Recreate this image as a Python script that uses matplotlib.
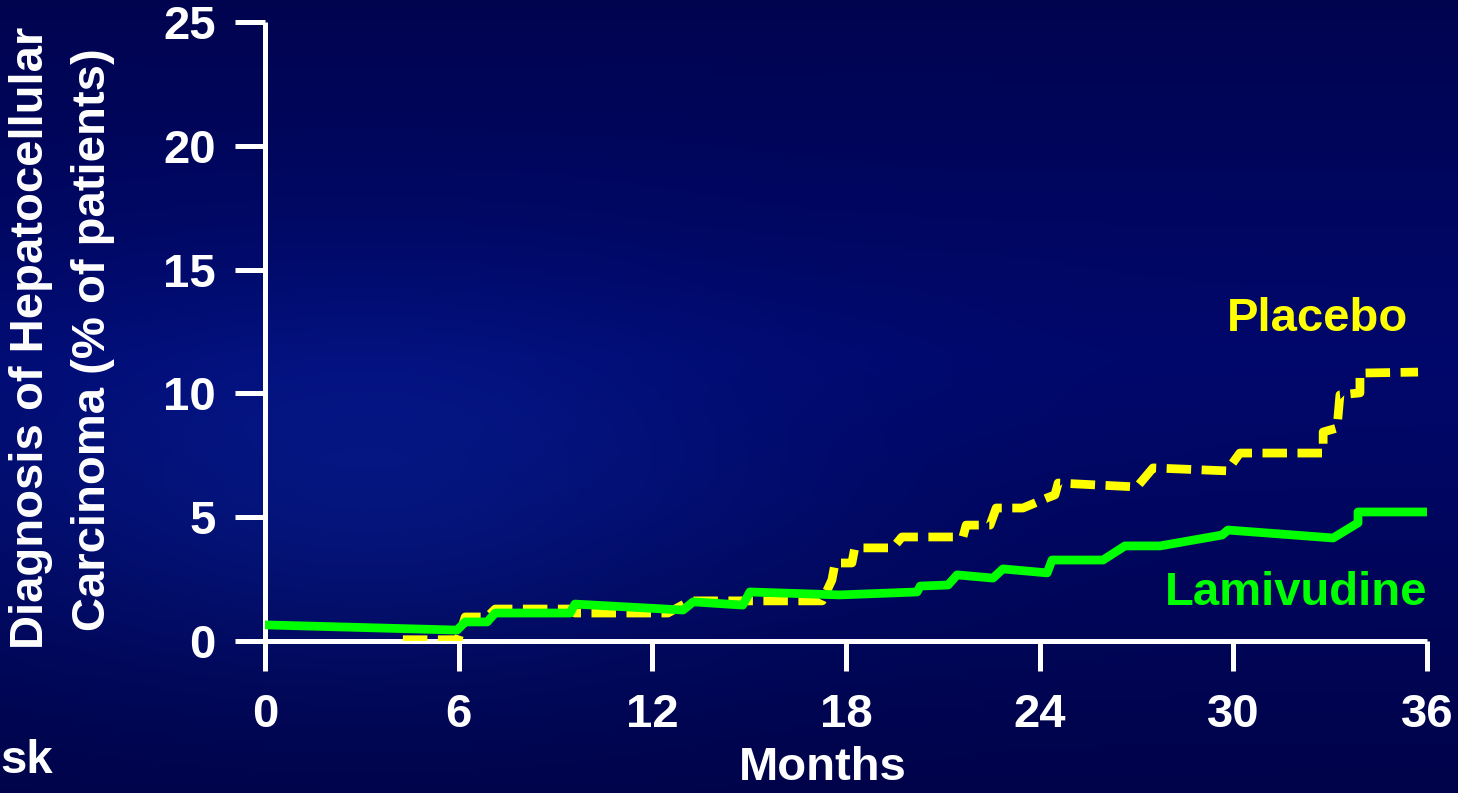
import numpy as np
import matplotlib
matplotlib.use('Agg')
import matplotlib.pyplot as plt

plt.rcParams['font.family'] = ['Liberation Sans', 'DejaVu Sans']
plt.rcParams['font.weight'] = 'bold'

# Lamivudine (solid green), months vs % of patients
lam_months = [0, 5.95, 6.2, 6.88, 7.13, 9.45, 9.6, 12.95, 13.26, 14.8, 15.02, 17.8,
              20.2, 20.3, 21.16, 21.44, 22.55, 22.86, 24.23, 24.38, 25.96, 26.64,
              27.73, 29.65, 29.83, 33.09, 33.86, 33.86, 36]
lam_pct = [0.65, 0.44, 0.77, 0.77, 1.13, 1.13, 1.49, 1.25, 1.58, 1.45, 1.98, 1.86,
           1.98, 2.22, 2.26, 2.67, 2.54, 2.91, 2.75, 3.27, 3.27, 3.84,
           3.84, 4.28, 4.48, 4.16, 4.77, 5.21, 5.21]

# Placebo (dashed yellow)
pla_months = [4.27, 5.98, 6.2, 6.88, 7.13, 9.45, 9.6, 12.48, 13.17, 17.26, 17.56,
              17.66, 18.18, 18.27, 19.45, 19.73, 21.62, 21.72, 22.46, 22.65, 23.48,
              24.23, 24.47, 24.57, 27.01, 27.51, 29.8, 30.2, 32.78, 32.78, 33.21,
              33.3, 33.92, 33.92, 35.72]
pla_pct = [0.05, 0.05, 0.97, 0.97, 1.29, 1.29, 1.13, 1.13, 1.62, 1.62, 2.46,
           3.15, 3.15, 3.76, 3.76, 4.2, 4.2, 4.68, 4.68, 5.37, 5.37,
           5.78, 5.9, 6.38, 6.22, 6.99, 6.87, 7.59, 7.59, 8.44, 8.6,
           9.94, 10.02, 10.82, 10.86]

xticks = [0, 6, 12, 18, 24, 30, 36]
yticks = [0, 5, 10, 15, 20, 25]

fig = plt.figure(figsize=(14.58, 7.93), dpi=100)

# dark blue slide background
bg = fig.add_axes([0, 0, 1, 1], zorder=-10)
yy, xx = np.mgrid[0:1:200j, 0:1:300j]
glow = np.exp(-((xx - 0.25) ** 2 / 0.08 + (yy - 0.6) ** 2 / 0.06))
dark = np.clip(np.abs(yy - 0.45) * 1.5, 0, 1)
img = np.zeros((200, 300, 3))
img[..., 0] = 0.0 + 0.02 * glow
img[..., 1] = 0.03 + 0.06 * glow - 0.02 * dark
img[..., 2] = 0.42 + 0.12 * glow - 0.16 * dark
bg.imshow(np.clip(img, 0, 1), aspect='auto', extent=[0, 1, 0, 1], origin='upper')
bg.axis('off')

ax = fig.add_axes([0.1818, 0.1917, 0.797, 0.7806])
ax.patch.set_alpha(0)

ax.plot(pla_months, pla_pct, color='#ffff00', lw=6.3, ls=(0, (2.8, 1.2)),
        zorder=3)
ax.plot(lam_months, lam_pct, color='#00ff00', lw=6.3, zorder=4)

ax.set_xlim(0, 36)
ax.set_ylim(0, 25)
ax.set_xticks(xticks)
ax.set_yticks(yticks)
ax.set_xticklabels([str(t) for t in xticks])
ax.set_yticklabels([str(t) for t in yticks])

for s in ['top', 'right']:
    ax.spines[s].set_visible(False)
for s in ['left', 'bottom']:
    ax.spines[s].set_color('white')
    ax.spines[s].set_linewidth(3.6)
    ax.spines[s].set_capstyle('butt')
ax.tick_params(axis='both', colors='white', width=3.6, length=21.5,
               labelsize=34)
ax.tick_params(axis='y', pad=14)
ax.tick_params(axis='x', pad=16)
for lab in ax.get_xticklabels() + ax.get_yticklabels():
    lab.set_fontweight('bold')

ax.set_xlabel('Months', color='white', fontsize=34, fontweight='bold')
ax.xaxis.set_label_coords(0.48, -0.17)
ax.xaxis.label.set_va('top')
fig.text(0.0216, 0.574, 'Diagnosis of Hepatocellular', rotation=90, color='white',
         fontsize=34, fontweight='bold', ha='center', va='center')
fig.text(0.0635, 0.572, 'Carcinoma (% of patients)', rotation=90, color='white',
         fontsize=34, fontweight='bold', ha='center', va='center')

ax.text(35.4, 13.0, 'Placebo', color='#ffff00', fontsize=34, fontweight='bold',
        ha='right', va='center', clip_on=False)
ax.text(36, 1.95, 'Lamivudine', color='#00ff00', fontsize=34, fontweight='bold',
        ha='right', va='center', clip_on=False)

fig.text(0.0, 0.04, 'sk', color='white', fontsize=34, fontweight='bold',
         ha='left', va='center')

fig.savefig('out.png', dpi=100)
